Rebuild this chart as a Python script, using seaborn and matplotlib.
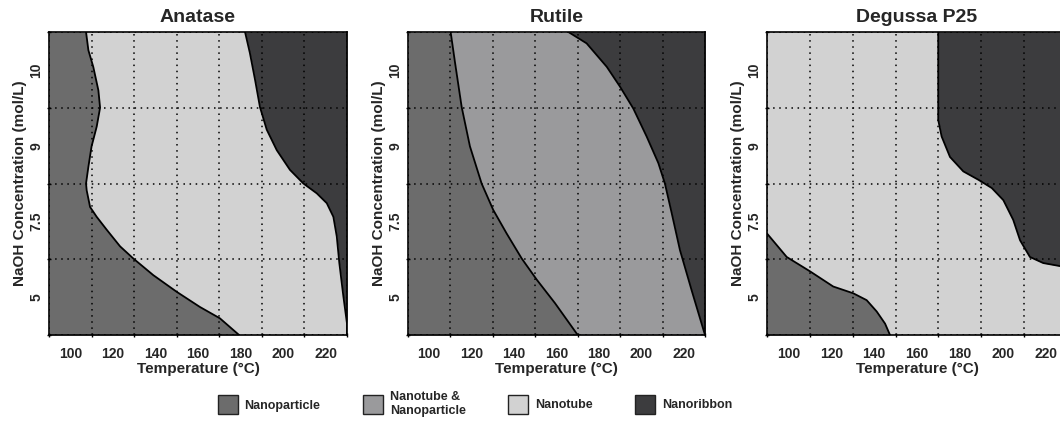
import matplotlib
matplotlib.use("Agg")
import matplotlib.pyplot as plt
import seaborn as sns
import pandas as pd
from matplotlib.patches import Patch

# phase boundaries
# y is the concentration band position (0 = bottom, 4 = top), x is temperature in C
conc_labels = ["5", "7.5", "9", "10"]
temp_labels = [100, 120, 140, 160, 180, 200, 220]
t_min, t_max = 90, 230

# Anatase: nanoparticle | nanotube
ana_a_y = [4.0, 3.76, 3.54, 3.23, 3.0, 2.75, 2.49, 2.22, 2.0, 1.91, 1.69, 1.56, 1.39, 1.17, 1.01, 0.79, 0.57, 0.37, 0.22, 0.0]
ana_a_x = [107.4, 108.5, 110.8, 113.2, 114.0, 112.4, 110.0, 108.5, 107.4, 107.7, 109.3, 112.4, 117.1, 123.4, 129.6, 139.0, 150.0, 160.9, 170.3, 179.3]
# Anatase: nanotube | nanoribbon
ana_b_y = [4.0, 3.72, 3.37, 3.01, 2.71, 2.44, 2.18, 2.0, 1.87, 1.74, 1.56, 1.30, 0.95, 0.51, 0.15, 0.0]
ana_b_x = [182.1, 184.4, 186.8, 189.1, 192.3, 197.0, 203.2, 209.5, 215.8, 220.5, 223.6, 225.2, 226.4, 228.3, 230.0, 230.0]

# Rutile: nanoparticle | nanotube & nanoparticle
rut_a_y = [4.0, 3.59, 3.01, 2.49, 2.0, 1.65, 1.34, 1.01, 0.73, 0.42, 0.0]
rut_a_x = [110.1, 112.2, 115.3, 119.2, 124.7, 130.2, 136.5, 143.6, 150.7, 159.3, 170.0]
# Rutile: nanotube & nanoparticle | nanoribbon
rut_b_y = [4.0, 3.85, 3.54, 3.28, 2.99, 2.62, 2.27, 2.0, 1.61, 1.12, 0.59, 0.0]
rut_b_x = [165.6, 174.2, 183.7, 189.9, 196.2, 202.5, 208.0, 211.1, 214.3, 218.2, 223.7, 230.0]

# Degussa P25: nanoparticle | nanotube
p25_a_y = [1.34, 1.03, 0.84, 0.64, 0.55, 0.46, 0.31, 0.15, 0.0]
p25_a_x = [90.0, 99.2, 110.1, 120.9, 130.3, 136.5, 141.2, 145.1, 147.4]
# Degussa P25: nanotube | nanoribbon
p25_b_y = [4.0, 3.10, 2.84, 2.62, 2.35, 2.16, 2.05, 1.94, 1.78, 1.52, 1.25, 1.03, 0.95, 0.91, 0.90]
p25_b_x = [169.9, 169.9, 169.9, 171.5, 175.4, 181.6, 188.6, 194.9, 200.3, 204.9, 208.1, 212.7, 218.9, 226.7, 230.0]

phases = ["Nanoparticle", "Nanotube &\nNanoparticle", "Nanotube", "Nanoribbon"]
colors = ["#6c6c6c", "#9a9a9c", "#d2d2d2", "#3c3c3e"]

sns.set_style("ticks")
plt.rcParams["font.family"] = ["Liberation Sans", "DejaVu Sans"]
plt.rcParams["font.weight"] = "bold"

fig = plt.figure(figsize=(10.6, 4.21), dpi=100)
W, H = 1060, 421
boxes = [(49, 298), (408, 297), (767, 300)]
axes = [fig.add_axes([l / W, 86 / H, w / W, 303 / H]) for l, w in boxes]


def boundary(ax, xs, ys):
    df = pd.DataFrame({"T": xs, "c": ys})
    sns.lineplot(data=df, x="T", y="c", ax=ax, sort=False, estimator=None,
                 orient="y", color="black", lw=1.3, zorder=3)


def style(ax, title):
    ax.set_xlim(t_min, t_max)
    ax.set_ylim(0, 4)
    ax.set_xticks(temp_labels)
    ax.set_xticklabels([str(t) for t in temp_labels], fontsize=10, fontweight="bold")
    ax.set_xticks(range(t_min, t_max + 1, 20), minor=True)
    ax.set_yticks([0.5, 1.5, 2.5, 3.5])
    ax.set_yticklabels(conc_labels, rotation=90, va="center", fontsize=10, fontweight="bold")
    ax.set_yticks([0, 1, 2, 3, 4], minor=True)
    ax.tick_params(which="major", length=0, pad=9)
    ax.tick_params(axis="y", which="major", pad=4)
    ax.tick_params(which="minor", length=3, width=1, color="black", direction="inout")
    ax.grid(which="minor", linestyle=(0, (1, 3)), color="black", lw=1.1)
    ax.grid(which="major", visible=False)
    ax.set_axisbelow(False)
    for s in ax.spines.values():
        s.set_color("black")
        s.set_linewidth(1.2)
    ax.set_xlabel("Temperature (°C)", fontsize=11, fontweight="bold", labelpad=0)
    ax.set_ylabel("NaOH Concentration (mol/L)", fontsize=11, fontweight="bold", labelpad=2)
    ax.set_title(title, fontsize=14, fontweight="bold", pad=7)


# Anatase
ax = axes[0]
ax.fill_betweenx(ana_a_y, t_min, ana_a_x, color=colors[0], lw=0, zorder=1)
ax.fill_betweenx(ana_a_y, ana_a_x, t_max, color=colors[2], lw=0, zorder=1)
ax.fill_betweenx(ana_b_y, ana_b_x, t_max, color=colors[3], lw=0, zorder=1.1)
boundary(ax, ana_a_x, ana_a_y)
boundary(ax, ana_b_x, ana_b_y)
style(ax, "Anatase")

# Rutile
ax = axes[1]
ax.fill_betweenx(rut_a_y, t_min, rut_a_x, color=colors[0], lw=0, zorder=1)
ax.fill_betweenx(rut_a_y, rut_a_x, t_max, color=colors[1], lw=0, zorder=1)
ax.fill_betweenx(rut_b_y, rut_b_x, t_max, color=colors[3], lw=0, zorder=1.1)
boundary(ax, rut_a_x, rut_a_y)
boundary(ax, rut_b_x, rut_b_y)
style(ax, "Rutile")

# Degussa P25
ax = axes[2]
ax.set_facecolor(colors[2])
ax.fill_betweenx(p25_a_y, t_min, p25_a_x, color=colors[0], lw=0, zorder=1)
ax.fill_betweenx(p25_b_y, p25_b_x, t_max, color=colors[3], lw=0, zorder=1)
boundary(ax, p25_a_x, p25_a_y)
boundary(ax, p25_b_x, p25_b_y)
style(ax, "Degussa P25")

handles = [Patch(facecolor=c, edgecolor="#222222", lw=1) for c in colors]
fig.legend(handles, phases, loc="center", bbox_to_anchor=(475 / W, 17 / H), ncol=4,
           frameon=False, handlelength=1.6, handleheight=2.0,
           columnspacing=3.4, handletextpad=0.55,
           prop={"weight": "bold", "size": 9})

fig.savefig("out.png", dpi=100)
